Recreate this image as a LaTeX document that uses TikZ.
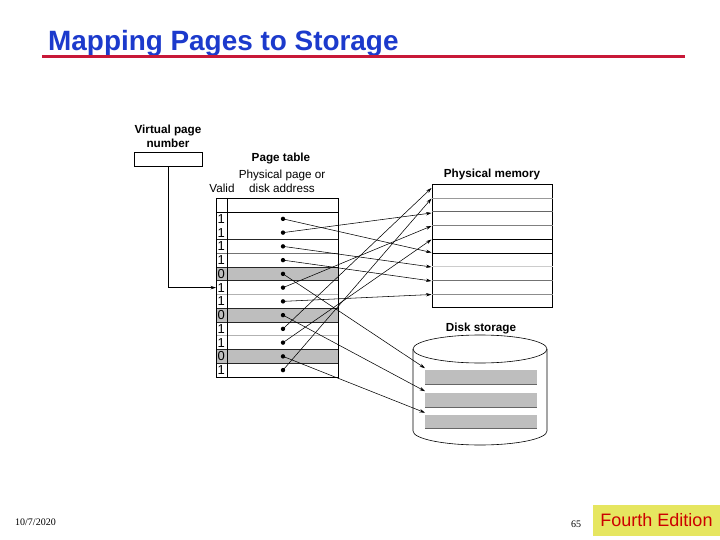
\documentclass[tikz,border=0pt]{standalone}
\usepackage{fontspec}
\setmainfont{Liberation Sans}
\newfontfamily\datefont{Liberation Serif}
\usetikzlibrary{arrows.meta}
\definecolor{titleblue}{RGB}{28,58,204}
\definecolor{rulered}{RGB}{200,24,56}
\definecolor{edyellow}{RGB}{230,230,96}
\definecolor{edred}{RGB}{204,0,0}
\definecolor{rowgray}{RGB}{190,190,190}
\tikzset{
  lbl/.style={font=\fontsize{11.7}{14}\selectfont, inner sep=0pt},
  blbl/.style={inner sep=0pt, font=\bfseries\fontsize{11.7}{14}\selectfont},
  ptr/.style={fill=black, circle, inner sep=0pt, minimum size=4.4pt},
  maparrow/.style={-{Stealth[length=5.5pt,width=3.4pt]}, line width=0.55pt},
}

\begin{document}
\begin{tikzpicture}[x=1pt, y=-1pt]
	\useasboundingbox (0,0) rectangle (720,540);
	\fill[white] (0,0) rectangle (720,540);
	% heading
	\node[anchor=base west, inner sep=0pt, text=titleblue, font=\bfseries\fontsize{27.9}{30}\selectfont] (title) at (48,51) {Mapping Pages to Storage};
	\draw[line width=3pt, rulered] (42,57) -- (685,57);
	% page table
	\node[blbl, align=center] (vpnlabel) at (168,136) {Virtual page\\number};
	\node[draw, line width=0.6pt, minimum width=68pt, minimum height=14pt, inner sep=0pt] (vpn) at (168,159.5) {};
	\node[blbl] (ptlabel) at (281,159) {Page table};
	\node[lbl, align=center] (pplabel) at (282,181) {Physical page or\\disk address};
	\node[lbl] (validlabel) at (222,188) {Valid};
	\foreach \r in {5,8,11} {\fill[rowgray] (216,{212+13.75*(\r-1)}) rectangle (338,{212+13.75*\r});}
	\foreach \k/\c in {2/black!85,3/black!55,4/black!85,5/black!85,6/black!30,7/black!85,8/black!85,9/black!30,10/black!85,11/black!85}
		{\draw[color=\c, line width=0.6pt] (216,{212+13.75*\k}) -- (338,{212+13.75*\k});}
	\draw[line width=0.7pt] (216,198) rectangle (338,377);
	\draw[line width=0.6pt] (227,198) -- (227,377);
	\draw[line width=0.7pt] (216,212) -- (338,212);
	\foreach \v [count=\i] in {1,1,1,1,0,1,1,0,1,1,0,1} {
		\node[anchor=west, inner sep=0pt, font=\fontsize{13}{13}\selectfont] (v\i) at (217.3,{212+13.75*(\i-0.5)}) {\v};
		\node[ptr] (d\i) at (283,{212+13.75*(\i-0.5)}) {};
	}
	\coordinate (row6in) at (216,{212+13.75*5.5});
	\draw[maparrow] (vpn.south) |- (row6in);
	% physical memory
	\node[blbl] (memlabel) at (492,174) {Physical memory};
	\draw[line width=0.7pt] (432,184.3) rectangle (552.5,307.7);
	\foreach \k/\c in {1/black!40,2/black!60,3/black!50,4/black,5/black,6/black!20,7/black!55,8/black!45}
		{\draw[color=\c, line width=0.6pt] (432,{184.3+13.7*\k}) -- (552.5,{184.3+13.7*\k});}
	\foreach \t/\y in {a/188,b/198.5,c/213,d/226,e/239.5,f/252.5,g/267,h/281,i/294.5} {\coordinate (pm\t) at (431.5,\y);}
	% disk storage
	\node[blbl] (disklabel) at (481,328) {Disk storage};
	\draw[line width=0.6pt, fill=white] (413,349) -- (413,431) arc[start angle=180, end angle=360, x radius=67pt, y radius=14pt] -- (547,349);
	\draw[line width=0.6pt] (480,349) ellipse [x radius=67pt, y radius=14pt];
	\foreach \b/\y in {1/370,2/393,3/414.5} {
		\fill[rowgray] (425,\y) rectangle (537,{\y+14});
		\draw[line width=1pt, black!60] (425,{\y+14}) -- (537,{\y+14});
		\coordinate (blk\b) at (425,{\y-1.8});
	}
	% arrows
	\foreach \s/\t in {1/f,2/c,3/g,4/h,6/d,7/i,9/a,10/e,12/b} {\draw[maparrow] (d\s.center) -- (pm\t);}
	\foreach \s/\b in {5/1,8/2,11/3} {\draw[maparrow] (d\s.center) -- (blk\b);}
	% footer
	\node[anchor=west, inner sep=0pt, font=\datefont\fontsize{10}{12}\selectfont] (date) at (15,522) {10/7/2020};
	\node[inner sep=0pt, font=\datefont\fontsize{10}{12}\selectfont] (pagenum) at (576,524) {65};
	\node[fill=edyellow, text=edred, minimum width=127pt, minimum height=31pt, inner sep=0pt, font=\fontsize{18}{20}\selectfont] (edition) at (656.5,520.5) {Fourth Edition};
\end{tikzpicture}
\end{document}
